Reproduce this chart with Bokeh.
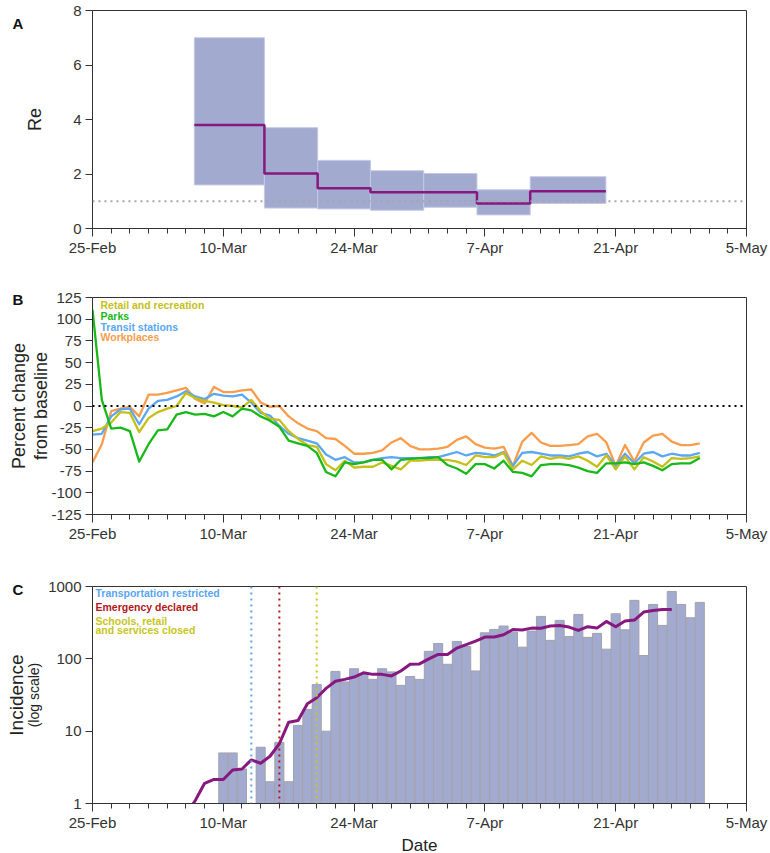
from bokeh.plotting import figure
from bokeh.models import FixedTicker, Label, Range1d, Span, NumeralTickFormatter, LinearAxis, LogAxis
from bokeh.layouts import column
from bokeh.embed import file_html
from bokeh.resources import INLINE

# ---------------- shared x axis (days since 25-Feb) ----------------
tick_days = [0, 14, 28, 42, 56, 70]
tick_labels = ["25-Feb", "10-Mar", "24-Mar", "7-Apr", "21-Apr", "5-May"]
minor_days = list(range(0, 71, 2))

# ---------------- panel A: Re ----------------
re_left = [10.9, 18.4, 24.1, 29.75, 35.45, 41.15, 46.85]
re_right = [18.4, 24.1, 29.75, 35.45, 41.15, 46.85, 54.95]
re_low = [1.6, 0.75, 0.72, 0.67, 0.78, 0.5, 0.92]
re_high = [7.0, 3.7, 2.5, 2.12, 2.02, 1.42, 1.9]
re_med = [3.8, 2.02, 1.48, 1.33, 1.33, 0.92, 1.37]
re_threshold = 1.0
re_ticks = [0, 2, 4, 6, 8]

# ---------------- panel B: mobility ----------------
mob_days = list(range(66))
retail = [-29, -26, -19, -7, -8, -30, -14, -7, -3, 0,
          15, 9, 6, 4, 1, 0, -2, 7, -6, -15,
          -16, -29, -38, -45, -47, -67, -74, -63, -71, -70,
          -70, -65, -69, -73, -63, -63, -62, -62, -62, -64,
          -68, -57, -59, -59, -54, -73, -63, -68, -58, -61,
          -59, -61, -58, -63, -70, -57, -73, -58, -73, -59,
          -64, -70, -60, -61, -60, -58]
parks = [111, 7, -26, -25, -29, -64, -44, -28, -27, -10,
         -7, -10, -9, -12, -7, -12, -3, -5, -12, -17,
         -24, -40, -43, -46, -54, -76, -81, -65, -67, -65,
         -62, -62, -73, -62, -61, -60, -60, -59, -68, -72,
         -78, -67, -67, -72, -63, -76, -77, -81, -68, -67,
         -67, -68, -71, -75, -77, -66, -66, -65, -67, -65,
         -69, -74, -67, -66, -66, -60]
transit = [-33, -32, -12, -4, -3, -21, -3, 6, 7, 11,
           17, 11, 8, 14, 12, 11, 13, 4, -8, -11,
           -23, -32, -37, -40, -43, -56, -62, -59, -65, -65,
           -62, -60, -59, -60, -60, -60, -59, -59, -56, -53,
           -57, -54, -55, -57, -53, -69, -54, -53, -55, -57,
           -57, -58, -55, -53, -58, -55, -69, -55, -66, -55,
           -53, -58, -55, -57, -57, -54]
workplaces = [-65, -44, -6, -3, -1, -12, 13, 13, 15, 18,
              21, 8, 3, 22, 16, 16, 18, 19, 4, -1,
              0, -12, -20, -26, -29, -37, -38, -46, -55, -55,
              -54, -51, -42, -37, -46, -50, -50, -49, -47, -39,
              -35, -44, -48, -49, -47, -69, -41, -31, -42, -46,
              -46, -45, -44, -35, -32, -42, -69, -45, -64, -42,
              -34, -32, -41, -45, -45, -43]
mob_names = ["Retail and recreation", "Parks", "Transit stations", "Workplaces"]
mob_ticks = [-125, -100, -75, -50, -25, 0, 25, 50, 75, 100, 125]

# ---------------- panel C: incidence ----------------
inc_days = list(range(14, 66))
incidence = [5, 5, 3, 0, 6, 2, 7, 2, 12, 20,
             44, 10, 67, 48, 73, 62, 52, 73, 66, 43,
             57, 52, 127, 163, 84, 174, 148, 68, 229, 255,
             284, 234, 145, 242, 386, 180, 340, 204, 411, 198,
             225, 136, 420, 252, 643, 111, 565, 290, 855, 565,
             370, 603]
smooth_days = list(range(10, 63))
smooth = [0.7, 1.1, 1.9, 2.15, 2.15, 2.9, 3.0, 4.0, 3.6, 4.5,
          6.7, 13.3, 14, 24, 29, 39, 49, 52, 56, 64,
          61, 61, 58, 68, 84, 85, 100, 115, 115, 141,
          157, 176, 200, 200, 215, 255, 251, 266, 265, 284,
          288, 275, 247, 278, 266, 329, 278, 333, 343, 443,
          467, 482, 482]
event_days = [17, 20, 24]
event_texts = ["Transportation restricted", "Emergency declared", "Schools, retail\nand services closed"]
inc_ticks = [1, 10, 100, 1000]

FONT = "Liberation Sans"
INK = "#333333"
LABEL_INK = "#222222"
PURPLE = "#87187f"
BAR = "#a3aad0"
MOB_COLORS = ["#c5bf17", "#19b819", "#5ba6f5", "#f99d4c"]
EVENT_COLORS = ["#5aa5f5", "#b3171b", "#c9c51a"]


def base_fig(y_range, top, bottom, frame_h, letter, letter_standoff, y_axis_type="linear"):
    p = figure(frame_width=654, frame_height=frame_h, x_range=Range1d(0, 70), y_range=y_range,
               y_axis_type=y_axis_type, output_backend="svg", toolbar_location=None,
               min_border_left=92, min_border_right=24, min_border_top=top, min_border_bottom=bottom)
    p.xgrid.visible = False
    p.ygrid.visible = False
    p.outline_line_color = INK
    p.outline_line_width = 1
    p.outline_line_alpha = 1
    # panel letter as the plot title, shifted into the left margin
    p.title.text = letter
    p.title.align = "left"
    p.title.offset = -80
    p.title.standoff = letter_standoff
    p.title.vertical_align = "bottom"
    p.title.text_font = FONT
    p.title.text_font_size = "15px"
    p.title.text_font_style = "bold"
    p.title.text_color = "#111111"
    for ax in (p.xaxis[0], p.yaxis[0]):
        ax.axis_line_color = INK
        ax.major_tick_line_color = INK
        ax.minor_tick_line_color = INK
        ax.major_tick_in = 0
        ax.minor_tick_in = 0
        ax.major_label_text_font = FONT
        ax.major_label_text_font_size = "15px"
        ax.major_label_text_color = INK
        ax.axis_label_text_font = FONT
        ax.axis_label_text_font_style = "normal"
        ax.axis_label_text_color = LABEL_INK
    xa = p.xaxis[0]
    xa.ticker = FixedTicker(ticks=tick_days, minor_ticks=minor_days)
    xa.major_label_overrides = {d: l for d, l in zip(tick_days, tick_labels)}
    xa.major_tick_out = 8
    xa.minor_tick_out = 5
    xa.major_label_standoff = 2
    ya = p.yaxis[0]
    ya.major_tick_out = 7
    ya.minor_tick_out = 0
    ya.major_label_standoff = 4
    return p


def add_outer_ylabel(p, text, size, standoff, axis_cls=LinearAxis):
    ax = axis_cls(ticker=FixedTicker(ticks=[], minor_ticks=[]), axis_label=text,
                  axis_line_color=None, major_tick_out=0, major_tick_in=0,
                  minor_tick_out=0, minor_tick_in=0, major_label_standoff=0,
                  axis_label_standoff=standoff, axis_label_text_font=FONT,
                  axis_label_text_font_size=f"{size}px", axis_label_text_font_style="normal",
                  axis_label_text_color=LABEL_INK)
    p.add_layout(ax, "left")


def add_text(p, text, x, y, size, color, bold=True):
    p.add_layout(Label(x=x, y=y, x_units="screen", y_units="screen", text=text,
                       text_font=FONT, text_font_size=f"{size}px", text_color=color,
                       text_font_style="bold" if bold else "normal",
                       text_align="left", text_baseline="middle"))


# ================= Panel A =================
pA = base_fig(Range1d(0, 8), top=10, bottom=42, frame_h=218, letter="A", letter_standoff=-42)
pA.yaxis[0].ticker = FixedTicker(ticks=re_ticks, minor_ticks=[])
pA.yaxis[0].axis_label = "Re"
pA.yaxis[0].axis_label_text_font_size = "18px"
pA.yaxis[0].axis_label_standoff = 25
pA.quad(left=re_left, right=re_right, bottom=re_low, top=re_high,
        fill_color=BAR, line_color="#c4c8e4", line_width=1)
step_x, step_y = [], []
for l, r, m in zip(re_left, re_right, re_med):
    step_x += [l, r]
    step_y += [m, m]
pA.line(step_x, step_y, line_color=PURPLE, line_width=2.5)
pA.add_layout(Span(location=re_threshold, dimension="width", line_color="#a6a6a6",
                   line_dash="2 4", line_width=1.8))

# ================= Panel B =================
pB = base_fig(Range1d(-125, 125), top=27, bottom=46, frame_h=217, letter="B", letter_standoff=-20)
pB.yaxis[0].ticker = FixedTicker(ticks=mob_ticks, minor_ticks=[])
pB.yaxis[0].major_label_overrides = {v: str(v) for v in mob_ticks}
pB.yaxis[0].axis_label = "from baseline"
pB.yaxis[0].axis_label_text_font_size = "18px"
pB.yaxis[0].axis_label_standoff = -3
add_outer_ylabel(pB, "Percent change", 18, 0)
series = [retail, parks, transit, workplaces]
for idx in [3, 2, 0, 1]:
    pB.line(mob_days, series[idx], line_color=MOB_COLORS[idx], line_width=2.3,
            line_join="round")
pB.add_layout(Span(location=0, dimension="width", line_color="#000000",
                   line_dash="2 4", line_width=2))
for i, (name, col) in enumerate(zip(mob_names, MOB_COLORS)):
    add_text(pB, name, 8, 209.3 - 10.7 * i, 10.5, col)

# ================= Panel C =================
pC = base_fig(Range1d(1, 1000), top=26, bottom=50, frame_h=217, letter="C", letter_standoff=-22,
              y_axis_type="log")
pC.yaxis[0].ticker = FixedTicker(ticks=inc_ticks, minor_ticks=[])
pC.yaxis[0].formatter = NumeralTickFormatter(format="0")
pC.yaxis[0].axis_label = "(log scale)"
pC.yaxis[0].axis_label_text_font_size = "14px"
pC.yaxis[0].axis_label_standoff = 3
add_outer_ylabel(pC, "Incidence", 19, -3, LogAxis)
pC.xaxis[0].axis_label = "Date"
pC.xaxis[0].axis_label_text_font_size = "17px"
pC.xaxis[0].axis_label_standoff = 2
bx = [d for d, v in zip(inc_days, incidence) if v > 0]
bv = [v for v in incidence if v > 0]
pC.vbar(x=bx, top=bv, bottom=1, width=0.97, fill_color=BAR, line_color="#a2a2aa",
        line_width=1)
for d, col in zip(event_days, EVENT_COLORS):
    pC.add_layout(Span(location=d, dimension="height", line_color=col,
                       line_dash="2 4", line_width=2))
pC.line(smooth_days, smooth, line_color=PURPLE, line_width=3, line_join="round")
ev_y = 210.3
for txt, col in zip(event_texts, EVENT_COLORS):
    for j, part in enumerate(txt.split("\n")):
        add_text(pC, part, 3, ev_y - 8.7 * j, 10.5, col)
    ev_y -= 14

layout = column(pA, pB, pC, spacing=0)
open("out.html", "w").write(file_html(layout, INLINE))
